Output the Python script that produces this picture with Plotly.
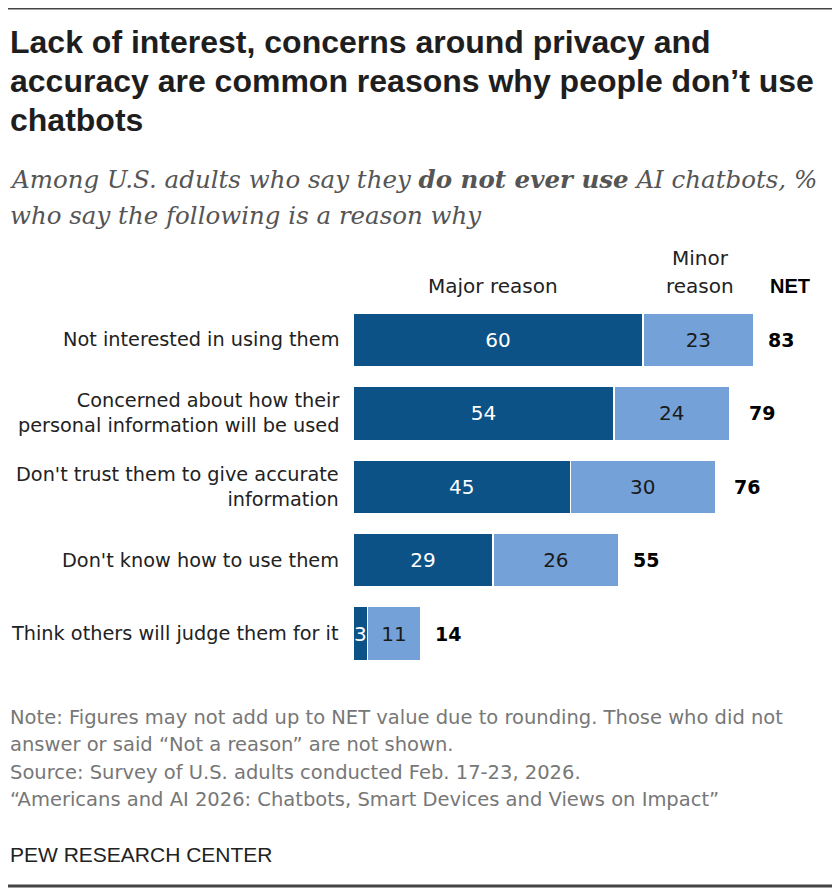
import plotly.graph_objects as go

categories = [
    "Not interested in using them",
    "Concerned about how their<br>personal information will be used",
    "Don't trust them to give accurate<br>information",
    "Don't know how to use them",
    "Think others will judge them for it",
]
major = [60, 54, 45, 29, 3]
minor = [23, 24, 30, 26, 11]
net = [83, 79, 76, 55, 14]

title_lines = [
    "Lack of interest, concerns around privacy and",
    "accuracy are common reasons why people don’t use",
    "chatbots",
]
subtitle_lines = [
    "Among U.S. adults who say they <b>do not ever use</b> AI chatbots, %",
    "who say the following is a reason why",
]
note_lines = [
    "Note: Figures may not add up to NET value due to rounding. Those who did not",
    "answer or said “Not a reason” are not shown.",
    "Source: Survey of U.S. adults conducted Feb. 17-23, 2026.",
    "“Americans and AI 2026: Chatbots, Smart Devices and Views on Impact”",
]

DARK = "#0d5286"
LIGHT = "#74a2d8"
SANS = "DejaVu Sans, Verdana, sans-serif"
BOLD = "Liberation Sans, Arial, sans-serif"
SERIF = "DejaVu Serif, Georgia, serif"

# page has an 8px body margin, so the figure is a bit smaller and shifted
OFF = 8
W, H = 840 - OFF, 888 - OFF


def px(x):
    return (x - OFF) / W


def py(y):
    return 1 - (y - OFF) / H


fig = go.Figure()
fig.add_trace(go.Bar(
    y=categories, x=major, orientation="h", name="Major reason",
    marker=dict(color=DARK, line=dict(color="white", width=1.5)),
    text=[str(v) for v in major], textposition="inside",
    insidetextanchor="middle", textfont=dict(color="white", size=20, family=SANS),
    hoverinfo="skip",
))
fig.add_trace(go.Bar(
    y=categories, x=minor, orientation="h", name="Minor reason",
    marker=dict(color=LIGHT, line=dict(color="white", width=1.5)),
    text=[str(v) for v in minor], textposition="inside",
    insidetextanchor="middle", textfont=dict(color="#1a1a1a", size=20, family=SANS),
    hoverinfo="skip",
))

annotations = []
for c, n in zip(categories, net):
    annotations.append(dict(
        x=n, y=c, xref="x", yref="y", text="<b>%d</b>" % n, showarrow=False,
        xanchor="left", xshift=12, font=dict(size=19, color="black", family=SANS),
    ))
    annotations.append(dict(
        x=px(341), y=c, xref="paper", yref="y", text=c, showarrow=False,
        xanchor="right", align="right", font=dict(size=19.3, color="#222222", family=SANS),
    ))

# column headers
hdr = dict(xref="paper", yref="paper", showarrow=False, xanchor="center", yanchor="middle")
annotations += [
    dict(hdr, x=px(493), y=py(286), text="Major reason",
         font=dict(size=20, color="#222222", family=SANS)),
    dict(hdr, x=px(700), y=py(258), text="Minor",
         font=dict(size=20, color="#222222", family=SANS)),
    dict(hdr, x=px(700), y=py(286), text="reason",
         font=dict(size=20, color="#222222", family=SANS)),
    dict(hdr, x=px(790), y=py(286), text="<b>NET</b>",
         font=dict(size=20, color="black", family=BOLD)),
]

# title, subtitle and notes, one annotation per line
for i, t in enumerate(title_lines):
    annotations.append(dict(
        x=0, y=py(42 + 39 * i), xref="paper", yref="paper",
        xanchor="left", yanchor="middle", showarrow=False, text="<b>%s</b>" % t,
        font=dict(size=32, color="#1e1e1e", family=BOLD)))
for i, t in enumerate(subtitle_lines):
    annotations.append(dict(
        x=0, y=py(180 + 35 * i), xref="paper", yref="paper",
        xanchor="left", yanchor="middle", showarrow=False, text="<i>%s</i>" % t,
        font=dict(size=24.5, color="#555555", family=SERIF)))
for i, t in enumerate(note_lines):
    annotations.append(dict(
        x=0, y=py(717 + 27.5 * i), xref="paper", yref="paper",
        xanchor="left", yanchor="middle", showarrow=False, text=t,
        font=dict(size=19.5, color="#777777", family=SANS)))
annotations.append(dict(
    x=0, y=py(854), xref="paper", yref="paper", xanchor="left", yanchor="middle",
    showarrow=False, text="PEW RESEARCH CENTER",
    font=dict(size=21, color="#222222", family=BOLD)))

fig.update_layout(
    width=W, height=H,
    margin=dict(l=0, r=0, t=0, b=0),
    paper_bgcolor="white", plot_bgcolor="white",
    barmode="stack", bargap=0.265,
    showlegend=False,
    uniformtext=dict(minsize=20, mode="show"),
    xaxis=dict(domain=[px(353), 1], range=[0, (840 - 353) / 4.83], visible=False, fixedrange=True),
    yaxis=dict(domain=[py(670.2), py(303.3)], autorange="reversed",
               showticklabels=False, showgrid=False, zeroline=False, fixedrange=True),
    annotations=annotations,
    shapes=[
        dict(type="line", xref="paper", yref="paper", x0=0, x1=1, y0=1, y1=1,
             line=dict(color="#444444", width=3)),
        dict(type="line", xref="paper", yref="paper", x0=0, x1=1, y0=py(886), y1=py(886),
             line=dict(color="#444444", width=3)),
    ],
)

fig.write_html("out.html")
